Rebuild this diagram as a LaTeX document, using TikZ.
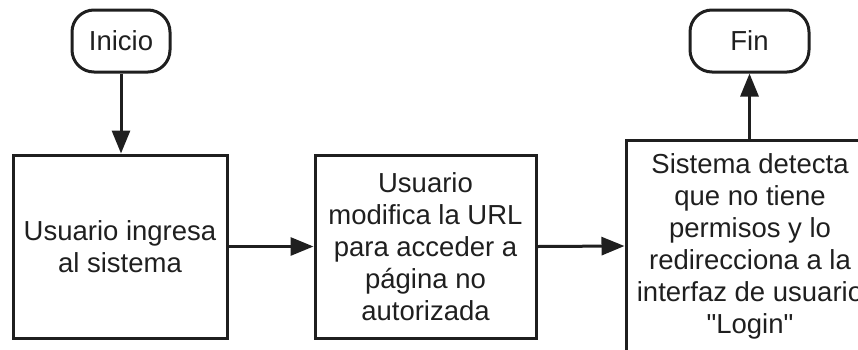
\documentclass[tikz,border=0pt]{standalone}
\usepackage{fontspec}
\setmainfont{Liberation Sans}
\newfontfamily\plainq{Liberation Sans}
\usetikzlibrary{arrows.meta}
\begin{document}
\begin{tikzpicture}[x=1pt,y=-1pt,
  every node/.style={font=\fontsize{27.5}{32}\selectfont, text=black!88},
  procbox/.style={draw=black!88, line width=3pt, align=center, inner sep=0pt, rectangle},
  termbox/.style={draw=black!88, line width=3pt, rounded corners=22pt, align=center, inner sep=0pt, rectangle},
  flow/.style={draw=black!88, line width=3pt, -{Triangle[length=23pt,width=18pt]}}]
\useasboundingbox (0,0) rectangle (858,349);
\clip (0,0) rectangle (858,349);
\node[termbox, minimum width=98pt, minimum height=62pt] (ini) at (121,41) {Inicio};
\node[termbox, minimum width=119pt, minimum height=62pt] (fin) at (749.5,41) {Fin};
\node[procbox, minimum width=214pt, minimum height=183pt] (b1) at (120,246.5) {Usuario ingresa\\al sistema};
\node[procbox, minimum width=221pt, minimum height=183pt] (b2) at (425.5,246.5) {Usuario\\modifica la URL\\para acceder a\\página no\\autorizada};
\node[procbox, minimum width=248pt, minimum height=212pt] (b3) at (750,246) {Sistema detecta\\que no tiene\\permisos y lo\\redirecciona a la\\interfaz de usuario\\{\plainq"}Login{\plainq"}};
\draw[flow] (ini.south) -- (ini.south |- b1.north);
\draw[flow] (b1.east) -- (b2.west);
\draw[flow] (b2.east) -- (b3.west);
\draw[flow] (fin.south |- b3.north) -- (fin.south);
\end{tikzpicture}
\end{document}
